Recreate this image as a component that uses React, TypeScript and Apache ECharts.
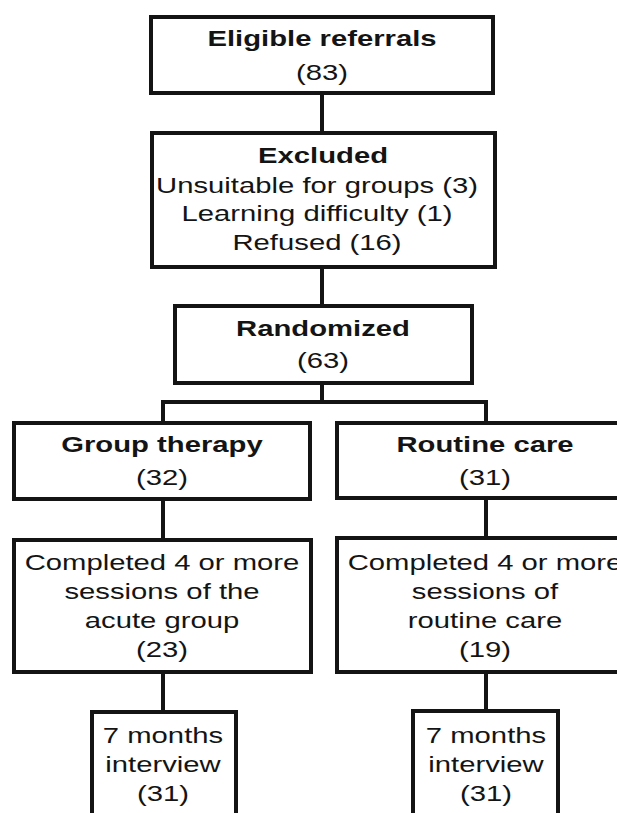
import React, { useEffect, useRef } from "react";
import * as echarts from "echarts";

// ---- Data (flow counts and labels) ----
const eligibleLabel = "Eligible referrals";
const eligibleCount = 83;
const excludedTitle = "Excluded";
const excludedReasons = ["Unsuitable for groups", "Learning difficulty", "Refused"];
const excludedCounts = [3, 1, 16];
const randomizedLabel = "Randomized";
const randomizedCount = 63;
const armLabels = ["Group therapy", "Routine care"];
const armCounts = [32, 31];
const completedLabels = [
  ["Completed 4 or more", "sessions of the", "acute group"],
  ["Completed 4 or more", "sessions of", "routine care"],
];
const completedCounts = [23, 19];
const followUpLabels = ["7 months", "interview"];
const followUpCounts = [31, 31];

// ---- Layout ----
const INK = "#141414";
const LW = 4;
const FONT = '"Liberation Sans", Arial, Helvetica, sans-serif';
const FS = 22;
const SX = 1.33;
const LH = 29;

type Box = { x: number; y: number; w: number; h: number };

const boxEligible: Box = { x: 151, y: 17, w: 342, h: 76 };
const boxExcluded: Box = { x: 152, y: 133, w: 343, h: 134 };
const boxRandom: Box = { x: 175, y: 306, w: 297, h: 77 };
const boxArms: Box[] = [
  { x: 14, y: 423, w: 296, h: 76 },
  { x: 337, y: 423, w: 296, h: 75 },
];
const boxCompleted: Box[] = [
  { x: 14, y: 540, w: 297, h: 132 },
  { x: 337, y: 538, w: 296, h: 134 },
];
const boxFollow: Box[] = [
  { x: 92, y: 712, w: 144, h: 130 },
  { x: 413, y: 711, w: 145, h: 130 },
];
const armX = [163, 486];
const centerX = 322;
const branchY = 402;

function rect(b: Box): any {
  return {
    type: "rect",
    shape: { x: b.x, y: b.y, width: b.w, height: b.h },
    style: { fill: "#ffffff", stroke: INK, lineWidth: LW },
    z: 1,
  };
}
function line(x1: number, y1: number, x2: number, y2: number): any {
  return {
    type: "line",
    shape: { x1, y1, x2, y2 },
    style: { stroke: INK, lineWidth: LW, lineCap: "square" },
    z: 0,
  };
}
function text(t: string, cx: number, cy: number, bold: boolean): any {
  return {
    type: "text",
    x: cx,
    y: cy,
    scaleX: SX,
    style: {
      text: t,
      fill: INK,
      font: `${bold ? "bold " : ""}${FS}px ${FONT}`,
      textAlign: "center",
      textVerticalAlign: "middle",
    },
    z: 2,
  };
}
function lines(items: string[], cx: number, firstY: number): any[] {
  return items.map((t, i) => text(t, cx, firstY + i * LH, false));
}

export default function App() {
  const ref = useRef<HTMLDivElement>(null);
  useEffect(() => {
    if (!ref.current) return;
    const chart = echarts.init(ref.current, undefined, { renderer: "svg" });
    const g: any[] = [];

    // connectors
    g.push(line(centerX, boxEligible.y + boxEligible.h, centerX, boxExcluded.y));
    g.push(line(centerX, boxExcluded.y + boxExcluded.h, centerX, boxRandom.y));
    g.push(line(centerX, boxRandom.y + boxRandom.h, centerX, branchY));
    g.push(line(armX[0], branchY, armX[1], branchY));
    for (let i = 0; i < 2; i++) {
      g.push(line(armX[i], branchY, armX[i], boxArms[i].y));
      g.push(line(armX[i], boxArms[i].y + boxArms[i].h, armX[i], boxCompleted[i].y));
      g.push(line(armX[i], boxCompleted[i].y + boxCompleted[i].h, armX[i], boxFollow[i].y));
    }

    // boxes
    [boxEligible, boxExcluded, boxRandom, ...boxArms, ...boxCompleted, ...boxFollow].forEach((b) =>
      g.push(rect(b))
    );

    // texts
    g.push(text(eligibleLabel, 322, 38, true));
    g.push(text(`(${eligibleCount})`, 322, 72, false));

    g.push(text(excludedTitle, 323, 155, true));
    excludedReasons.forEach((r, i) =>
      g.push(text(`${r} (${excludedCounts[i]})`, 317, 185 + i * 28.5, false))
    );

    g.push(text(randomizedLabel, 323, 328, true));
    g.push(text(`(${randomizedCount})`, 323, 360, false));

    for (let i = 0; i < 2; i++) {
      const cx = armX[i] - 1;
      g.push(text(armLabels[i], cx, 444, true));
      g.push(text(`(${armCounts[i]})`, cx, 477, false));
      g.push(...lines([...completedLabels[i], `(${completedCounts[i]})`], cx, 562));
      g.push(...lines([...followUpLabels, `(${followUpCounts[i]})`], cx + 1, 735));
    }

    chart.setOption({
      animation: false,
      backgroundColor: "#ffffff",
      graphic: { elements: g },
    });
    return () => chart.dispose();
  }, []);

  return (
    <div
      ref={ref}
      style={{ position: "fixed", left: 0, top: 0, width: 617, height: 813, background: "#fff" }}
    />
  );
}
